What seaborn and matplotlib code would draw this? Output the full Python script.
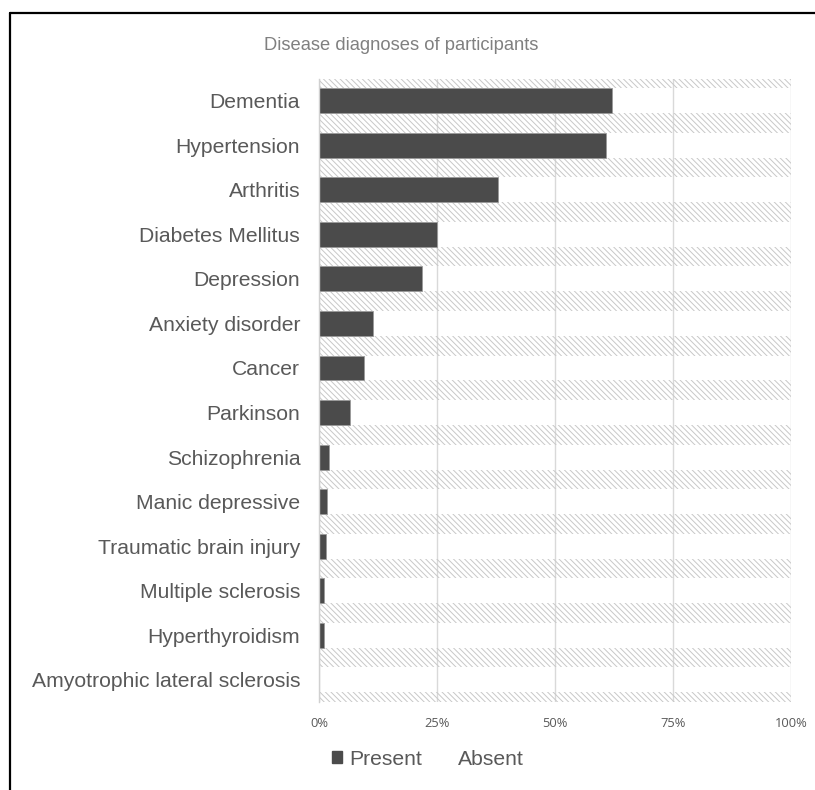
import matplotlib
matplotlib.use("Agg")
import matplotlib.pyplot as plt
import matplotlib.patches as mpatches
from matplotlib.lines import Line2D
import seaborn as sns
import pandas as pd

# Share of participants with each diagnosis (percent)
diseases = [
    "Dementia", "Hypertension", "Arthritis", "Diabetes Mellitus", "Depression",
    "Anxiety disorder", "Cancer", "Parkinson", "Schizophrenia", "Manic depressive",
    "Traumatic brain injury", "Multiple sclerosis", "Hyperthyroidism",
    "Amyotrophic lateral sclerosis",
]
present = [62.1, 60.9, 38.0, 25.0, 21.9, 11.5, 9.5, 6.6, 2.2, 1.8, 1.4, 1.1, 1.0, 0.0]
absent = [37.9, 39.1, 62.0, 75.0, 78.1, 88.5, 90.5, 93.4, 97.8, 98.2, 98.6, 98.9, 99.0, 100.0]
x_ticks = [0, 25, 50, 75, 100]
x_tick_labels = ["0%", "25%", "50%", "75%", "100%"]

df = pd.DataFrame({"Disease": diseases, "Present": present, "Absent": absent})

sns.set_theme(style="white")
plt.rcParams["font.family"] = ["Liberation Sans", "DejaVu Sans"]
plt.rcParams["hatch.color"] = "#c8c8c8"
plt.rcParams["hatch.linewidth"] = 0.7

TEXT = "#595959"
DARK = "#4b4b4b"

fig = plt.figure(figsize=(8.15, 7.90), dpi=100)
ax = fig.add_axes([0.3914, 0.1114, 0.5792, 0.7892])

# Absent: hatched band around each diagnosis row (split above and below the row)
totals = df["Present"] + df["Absent"]
for i, tot in enumerate(totals):
    ax.barh([i - 0.39, i + 0.39], [tot, tot], height=0.22, left=0,
            facecolor="none", edgecolor="#c8c8c8", hatch="\\\\\\\\\\\\",
            linewidth=0, zorder=1)

# Present: solid dark bars
sns.barplot(data=df, y="Disease", x="Present", orient="h", color=DARK,
            width=0.56, saturation=1, edgecolor="#9a9a9a", linewidth=0.6,
            ax=ax, zorder=3)

ax.set_xlim(0, 100)
ax.set_ylim(len(diseases) - 0.5, -0.5)
ax.set_xticks(x_ticks)
ax.set_xticklabels(x_tick_labels, fontfamily="Open Sans", fontsize=9.3, color=TEXT)
ax.set_xlabel("")
ax.set_ylabel("")
ax.tick_params(axis="y", length=0, pad=13.5, labelsize=15.2, labelcolor=TEXT)
ax.tick_params(axis="x", length=0, pad=10.5)

ax.grid(axis="x", color="#d9d9d9", linewidth=1.0, zorder=0)
ax.set_axisbelow(True)
for side in ["top", "right", "bottom"]:
    ax.spines[side].set_visible(False)
ax.spines["left"].set_color("#d0d0d0")
ax.spines["left"].set_linewidth(1.0)
ax.spines["left"].set_zorder(4)

fig.text(0.4926, 0.943, "Disease diagnoses of participants", ha="center", va="center",
         fontsize=13.2, color="#808080")

handles = [
    mpatches.Patch(facecolor=DARK, edgecolor=DARK, label="Present"),
    mpatches.Patch(facecolor="white", edgecolor="white", label="Absent"),
]
fig.legend(handles=handles, loc="center", bbox_to_anchor=(0.525, 0.039), ncol=2,
           frameon=False, fontsize=15.2, labelcolor=TEXT, handlelength=0.45,
           handleheight=0.45, handletextpad=0.35, columnspacing=0.9)

# Outer frame lines along the left and top edges
fig.add_artist(Line2D([10 / 815, 10 / 815], [0, 1 - 13 / 790], transform=fig.transFigure,
                      color="black", linewidth=1.6))
fig.add_artist(Line2D([10 / 815, 1], [1 - 13 / 790, 1 - 13 / 790], transform=fig.transFigure,
                      color="black", linewidth=1.6))

fig.savefig("out.png", dpi=100)
